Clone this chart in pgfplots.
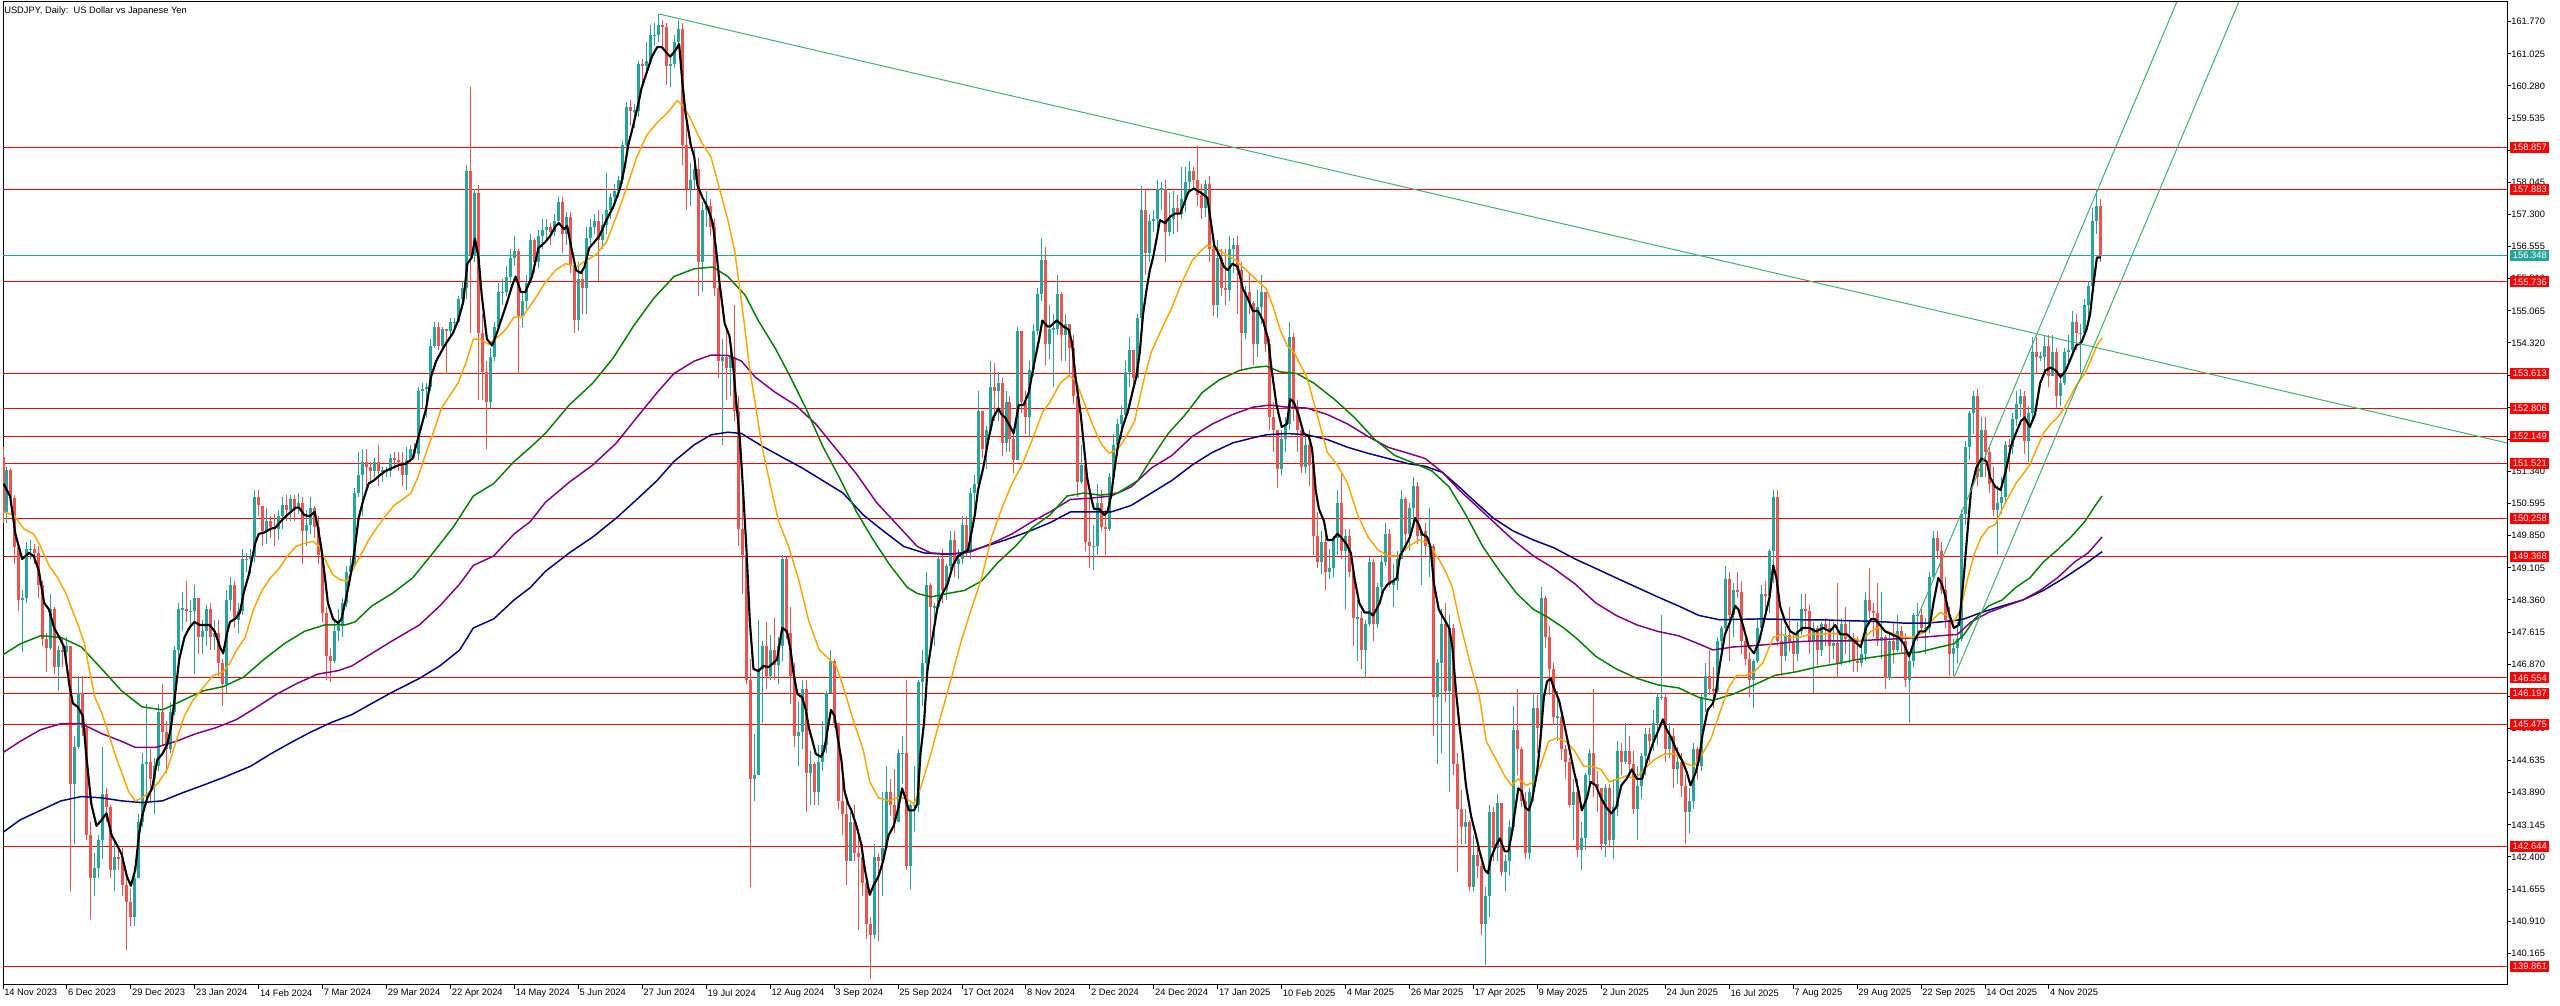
\documentclass[border=0pt]{standalone}
\usepackage{fontspec}
\setmainfont{Liberation Sans}
\usepackage{pgfplots}
\usepackage{pgfplotstable}
\pgfplotsset{compat=1.18}
\definecolor{upc}{HTML}{26A69A}
\definecolor{dnc}{HTML}{EF5350}
\definecolor{tl}{HTML}{3CB371}
\definecolor{maor}{HTML}{FFA500}
\definecolor{magr}{HTML}{008000}
\definecolor{mapu}{HTML}{800080}
\definecolor{manv}{HTML}{000080}
\pgfplotstableread{
c h l
150.40 151.90 150.15
151.38 151.45 150.15
150.72 151.43 150.55
149.58 150.80 149.20
148.35 149.70 148.10
148.40 148.60 147.15
149.53 149.70 148.30
149.55 149.75 149.30
149.45 149.65 149.20
148.70 149.60 148.40
147.45 148.80 147.30
147.25 147.60 146.70
148.15 148.50 147.20
146.80 148.20 146.65
147.20 147.30 146.25
147.15 147.45 146.80
147.30 147.50 146.90
144.10 147.30 141.60
144.95 145.20 142.70
146.20 146.60 144.90
145.40 146.60 145.20
142.90 145.50 142.80
141.90 143.20 140.95
142.15 142.50 141.50
142.80 142.90 141.90
143.85 144.95 142.35
143.55 144.00 143.20
142.10 143.60 141.90
142.40 142.80 141.60
142.35 142.60 142.10
141.75 142.60 141.50
141.35 141.90 140.25
141.00 141.65 140.80
141.90 142.20 140.80
143.20 143.40 141.90
144.55 144.80 143.10
144.60 145.95 143.80
144.20 144.90 143.70
144.50 144.70 143.40
145.75 145.95 144.40
145.30 146.40 145.00
144.90 145.55 144.35
145.75 146.00 144.80
147.20 147.30 145.70
148.15 148.30 147.00
148.15 148.55 147.65
148.10 148.80 147.85
148.10 148.35 147.70
148.40 148.70 146.65
147.50 148.30 147.10
147.65 147.90 147.10
148.15 148.25 147.30
147.50 148.30 147.20
147.60 147.90 147.20
146.90 147.90 146.60
146.40 147.00 145.90
148.35 148.60 146.20
148.70 148.90 148.10
147.90 148.80 147.70
148.10 148.30 147.60
149.30 149.55 148.00
149.30 149.45 149.00
149.35 149.55 148.95
150.75 150.90 149.25
150.55 150.90 150.30
149.95 150.55 149.60
150.20 150.50 149.65
150.05 150.30 149.80
150.00 150.35 149.60
150.30 150.45 149.75
150.55 150.75 150.00
150.45 150.80 150.20
150.70 150.80 150.20
150.50 150.80 150.20
150.60 150.85 150.35
149.95 150.75 149.20
150.10 150.45 149.60
150.50 150.75 149.90
150.05 150.55 149.80
149.40 150.30 149.20
148.05 149.45 147.85
147.05 148.20 146.50
146.95 147.25 146.45
147.65 147.90 146.90
147.75 148.15 147.40
148.30 148.40 147.50
149.00 149.15 148.20
149.15 149.35 148.90
150.85 150.95 149.30
151.25 151.80 150.75
151.55 151.85 150.30
151.45 151.85 151.00
151.35 151.55 151.05
151.55 151.65 151.20
151.35 151.95 151.00
151.35 151.45 151.10
151.35 151.45 151.20
151.65 151.75 151.20
151.60 151.80 151.40
151.55 151.80 151.35
151.25 151.80 151.00
151.60 151.90 150.90
151.85 151.95 151.55
151.75 152.00 151.65
153.20 153.30 151.60
153.25 153.40 152.80
153.30 153.40 152.60
154.25 154.40 153.20
154.70 154.80 154.20
154.25 154.80 154.15
154.65 154.70 154.20
154.60 154.65 153.60
154.80 154.90 154.50
154.80 154.90 154.60
155.35 155.40 154.80
155.60 155.75 155.10
158.30 158.45 155.35
156.35 160.25 154.55
157.80 157.90 156.20
154.55 157.99 153.00
153.65 155.00 152.99
152.95 153.90 151.86
154.00 154.20 152.80
154.70 154.80 153.90
155.50 155.70 154.60
155.50 155.80 155.20
155.85 156.10 155.40
156.30 156.50 155.70
156.45 156.80 156.10
154.95 156.50 153.60
155.30 155.50 154.70
155.70 155.90 155.10
156.70 156.85 155.75
156.20 156.75 155.95
156.80 156.95 156.05
156.95 157.20 156.50
157.00 157.20 156.70
156.90 157.10 156.60
157.15 157.30 156.80
157.60 157.70 157.10
156.85 157.70 156.40
157.25 157.35 156.60
156.10 157.35 155.95
154.85 156.20 154.55
155.80 156.20 154.60
155.60 156.05 155.00
156.75 157.00 155.00
157.00 157.20 156.60
157.15 157.30 156.85
156.70 157.40 155.75
157.05 157.30 156.50
157.40 158.25 156.85
157.70 157.80 157.20
157.85 158.00 157.55
158.10 158.20 157.70
158.90 159.00 158.00
159.80 159.90 158.80
159.70 159.95 159.35
159.70 159.85 159.30
160.80 160.85 159.55
160.75 160.90 160.30
160.85 161.30 160.65
161.45 161.70 160.80
161.45 161.75 161.20
161.70 161.95 161.30
161.65 161.80 161.20
160.75 161.75 160.30
160.80 161.00 160.25
161.30 161.45 160.70
161.60 161.80 161.25
158.90 161.75 158.45
157.90 159.45 157.40
158.10 158.50 157.50
158.35 158.85 157.90
156.20 158.60 155.40
157.40 157.60 155.50
157.50 157.85 157.00
157.00 157.65 156.80
155.60 157.20 155.40
153.90 155.65 153.50
154.00 154.40 151.95
153.75 154.70 153.00
154.00 154.20 153.10
152.75 155.20 152.50
150.00 153.10 149.60
149.40 150.90 148.50
146.50 149.90 146.40
144.20 147.00 141.70
144.30 145.25 143.70
146.75 147.90 144.70
147.30 147.40 145.50
146.60 147.85 146.30
147.20 147.55 146.50
146.85 147.95 146.50
147.30 147.50 146.40
149.30 149.40 146.95
147.60 149.35 147.45
146.60 148.20 145.95
145.20 146.90 144.95
145.30 146.00 144.50
146.30 146.50 144.90
144.35 146.50 143.45
144.55 144.85 143.60
143.90 144.60 143.60
144.60 145.00 143.60
145.00 145.55 144.40
146.20 146.25 144.80
146.95 147.20 146.20
145.50 147.00 145.40
143.70 145.50 143.50
143.40 144.20 142.90
142.30 143.80 141.75
143.20 143.45 142.40
142.50 143.60 142.30
142.40 142.95 140.70
141.80 142.70 141.50
140.85 141.95 140.50
140.60 141.00 139.58
142.40 142.70 140.50
142.30 142.50 140.45
142.60 143.90 141.50
143.90 144.50 142.70
143.60 144.20 143.35
143.20 144.45 142.95
144.80 144.90 143.30
144.80 145.20 144.10
142.20 146.50 142.10
143.60 143.65 141.65
143.60 144.50 143.00
146.45 146.50 143.45
146.90 147.20 145.90
148.70 149.00 146.40
148.20 148.75 147.35
148.20 148.30 147.30
149.30 149.35 148.15
148.60 149.55 148.30
149.15 149.20 148.35
149.75 149.95 149.05
149.20 149.95 148.90
149.30 149.55 148.85
150.10 150.30 149.20
149.50 150.30 149.35
150.85 150.95 149.30
151.05 151.25 150.30
152.75 153.20 150.90
151.85 152.75 151.65
152.30 152.40 151.40
153.30 153.90 152.20
153.20 153.85 152.50
153.40 153.65 152.50
152.00 153.50 151.70
152.95 153.20 151.80
152.10 153.10 151.80
151.60 152.30 151.30
154.60 154.70 151.60
152.95 154.60 152.70
152.60 153.20 152.20
153.70 153.90 152.15
154.60 154.75 153.55
155.45 155.60 154.50
156.25 156.75 155.30
154.30 156.55 153.80
154.65 155.20 153.95
154.65 155.00 153.30
155.45 155.90 154.50
154.50 155.50 153.90
154.75 155.00 153.90
154.20 154.75 153.55
153.10 154.50 152.90
151.10 153.20 150.75
151.50 151.95 151.05
149.70 151.60 149.50
149.60 150.75 149.10
149.60 150.10 149.05
150.60 151.05 149.40
150.05 150.90 149.95
150.00 150.45 149.40
151.20 151.30 149.95
151.95 152.20 151.05
152.45 152.55 151.70
152.65 152.85 152.10
153.65 153.90 152.60
154.15 154.45 153.30
153.50 154.15 153.30
154.90 155.00 153.50
157.40 157.95 154.50
156.40 157.90 155.90
157.15 157.30 156.20
157.20 157.40 156.90
157.90 158.10 157.00
157.90 158.05 157.40
156.90 158.10 156.20
157.20 157.80 156.80
157.45 157.85 156.85
157.30 157.75 156.90
157.65 158.40 157.20
158.05 158.40 157.35
158.30 158.55 157.80
158.10 158.40 157.90
157.75 158.88 157.50
157.45 158.00 157.20
158.00 158.10 157.25
156.50 158.20 156.20
155.20 156.60 154.95
156.30 156.70 154.90
155.60 156.50 155.40
155.55 156.50 155.20
156.50 156.80 155.30
156.60 156.75 155.95
156.00 156.80 155.00
154.55 156.20 153.70
155.50 155.65 154.40
155.25 155.95 155.00
154.30 155.30 153.80
155.15 155.55 154.00
155.50 155.90 154.75
154.30 155.50 154.10
152.60 154.40 152.30
152.30 152.95 151.80
151.40 152.30 150.95
152.10 152.30 151.25
152.45 152.60 151.80
154.45 154.80 152.30
152.80 154.55 152.50
152.30 153.00 151.80
151.45 152.30 151.30
151.95 152.20 151.30
151.50 152.30 151.00
149.85 151.50 149.40
149.25 150.40 149.10
149.70 149.95 148.95
149.00 149.90 148.60
149.10 149.55 148.85
149.80 149.85 148.90
150.60 150.90 149.40
149.50 151.30 149.30
149.85 150.00 148.15
149.00 150.00 148.90
147.95 149.10 147.30
147.95 148.35 146.95
147.20 148.10 146.75
147.80 147.90 146.55
149.25 149.35 147.75
147.80 149.30 147.40
148.65 148.75 147.70
149.25 149.40 148.50
149.90 150.15 149.15
148.70 150.00 148.65
148.80 149.20 148.20
149.30 149.50 148.60
150.70 150.90 149.30
149.90 150.75 149.50
150.50 150.60 149.50
151.00 151.20 150.10
149.85 151.10 149.65
149.95 150.00 148.70
149.60 150.15 149.40
149.60 150.50 148.90
146.10 149.65 145.20
146.90 147.00 144.55
147.80 148.15 144.80
146.25 148.30 146.00
147.70 148.00 143.90
144.55 147.80 144.30
143.50 144.80 142.05
143.10 143.95 142.70
143.20 143.50 142.70
141.70 143.25 141.60
142.45 142.90 141.60
142.20 142.60 141.90
140.85 142.25 140.60
141.50 141.70 139.89
143.45 143.60 141.00
142.60 143.55 142.30
143.65 143.85 142.30
142.05 143.65 141.95
142.30 142.45 141.60
143.10 143.25 141.95
145.35 145.90 143.00
144.90 146.30 144.30
143.70 144.95 143.55
142.50 143.90 142.35
143.90 144.00 142.35
145.85 146.20 143.70
145.40 146.15 144.80
148.40 148.65 145.50
147.50 148.45 147.25
146.75 147.75 146.15
145.65 146.90 145.45
145.65 146.25 145.10
144.90 145.80 144.65
144.60 145.00 144.20
143.60 144.70 143.55
143.90 144.20 142.80
142.55 144.20 142.40
142.85 143.20 142.10
144.30 144.35 142.55
144.80 144.90 143.95
144.10 146.30 143.80
144.00 144.40 143.45
142.70 144.00 142.55
144.00 144.10 142.40
142.80 144.10 142.65
143.55 144.20 142.35
144.85 145.10 143.35
144.60 145.05 144.30
144.85 145.50 144.55
144.55 145.20 144.30
143.50 144.85 143.40
144.05 144.50 142.80
144.75 144.80 143.75
145.25 145.40 144.30
145.10 145.40 144.60
145.50 145.80 144.85
146.10 146.20 145.00
146.10 148.00 146.05
144.90 146.20 144.60
145.20 145.50 144.70
144.45 145.40 144.00
144.60 144.95 144.10
144.05 144.80 143.80
143.45 144.30 142.70
143.70 144.00 142.95
144.90 145.05 143.50
144.50 144.95 144.20
146.10 146.20 144.40
146.60 146.90 145.75
146.30 147.20 146.15
146.25 146.80 145.85
147.40 147.50 146.20
147.70 147.75 147.05
148.85 149.15 147.60
148.00 149.00 146.95
148.60 148.75 147.50
148.55 149.00 148.40
147.40 148.80 147.10
147.00 147.60 146.85
146.50 147.15 146.10
146.95 147.00 145.85
147.70 147.95 146.90
148.50 148.70 147.60
148.45 148.80 147.90
149.50 149.55 148.05
150.75 150.90 148.75
147.40 150.90 147.30
147.05 147.90 146.60
147.55 147.75 146.95
147.35 148.20 147.15
147.10 147.55 146.70
147.65 147.85 146.95
148.15 148.50 147.55
148.10 148.50 147.70
147.40 148.25 147.10
147.70 147.85 146.20
147.20 147.75 146.85
147.80 147.85 147.05
147.70 147.95 147.30
147.30 147.90 146.90
147.35 147.85 147.00
146.90 148.75 146.55
147.80 147.95 146.85
147.45 148.20 147.10
147.45 147.90 146.90
146.95 147.60 146.70
146.90 147.50 146.70
147.10 147.40 146.80
148.35 148.55 146.95
148.10 149.10 147.95
148.05 148.30 147.50
147.40 148.75 147.30
147.50 148.55 147.00
146.55 147.55 146.30
147.40 147.60 146.50
147.20 147.85 146.90
147.65 148.00 147.15
147.40 147.75 147.15
146.50 147.60 146.35
146.95 147.05 145.50
148.00 148.05 146.80
148.00 148.30 147.40
147.70 148.15 147.60
147.70 147.95 147.10
148.90 149.00 147.60
149.80 149.95 148.85
149.50 149.95 149.30
148.60 149.70 148.50
147.90 148.90 147.70
147.10 148.20 146.60
147.25 147.45 146.60
147.45 147.85 146.90
150.35 150.45 147.40
151.90 152.05 150.10
152.70 152.75 151.60
153.10 153.20 152.20
151.20 153.25 151.00
152.30 152.60 151.45
151.80 152.60 151.20
151.05 151.90 150.85
150.45 151.45 150.30
150.60 151.00 149.40
150.75 151.20 150.35
151.95 152.05 150.60
151.90 152.10 151.35
152.55 152.70 151.75
152.90 153.20 152.40
153.10 153.25 152.60
152.05 153.20 151.75
152.70 152.85 151.55
154.10 154.45 152.50
154.00 154.45 153.60
154.00 154.10 153.90
154.25 154.50 153.70
153.55 154.50 153.30
154.10 154.50 153.60
153.10 154.20 152.80
153.40 153.60 152.85
154.10 154.20 153.35
154.15 154.50 153.90
154.80 155.05 154.10
154.55 155.00 154.15
154.55 154.75 153.60
155.20 155.35 154.45
155.65 155.75 154.90
157.15 157.45 155.35
157.50 157.90 156.85
156.35 157.65 156.20
}\candles
\pgfplotstablecreatecol[create col/assign/.code={%
  \getprevrow{c}\entry
  \ifx\entry\empty\def\entry{151.68}\fi
  \pgfkeyslet{/pgfplots/table/create col/next content}\entry}]{o}{\candles}
\tikzset{lbl/.style={anchor=west, xshift=2.25pt, fill=red, text=white,
  font=\fontsize{7}{8}\selectfont, inner xsep=2pt, inner ysep=0pt, minimum height=8.25pt}}
\pgfplotsset{candle/.style={draw=none, mark=none, forget plot, error bars/.cd, y explicit, error mark=none}}
\begin{document}
\begin{tikzpicture}
\useasboundingbox (0,0) rectangle (1920pt,754.5pt);
\fill[white] (0,0) rectangle (1920pt,754.5pt);
\begin{axis}[
  at={(2.25pt,15.75pt)}, anchor=south west,
  scale only axis, width=1878pt, height=737.25pt,
  xmin=0, xmax=626.635, ymin=139.43, ymax=162.227,
  clip mode=individual,
  axis line style={line width=0.75pt, black},
  tick align=outside, major tick length=3pt,
  tick style={line width=0.75pt, black},
  ytick pos=right, yticklabel pos=right, xtick pos=left,
  xtick={0,16,...,512},
  xticklabels={14 Nov 2023,6 Dec 2023,29 Dec 2023,23 Jan 2024,14 Feb 2024,7 Mar 2024,29 Mar 2024,22 Apr 2024,14 May 2024,5 Jun 2024,27 Jun 2024,19 Jul 2024,12 Aug 2024,3 Sep 2024,25 Sep 2024,17 Oct 2024,8 Nov 2024,2 Dec 2024,24 Dec 2024,17 Jan 2025,10 Feb 2025,4 Mar 2025,26 Mar 2025,17 Apr 2025,9 May 2025,2 Jun 2025,24 Jun 2025,16 Jul 2025,7 Aug 2025,29 Aug 2025,22 Sep 2025,14 Oct 2025,4 Nov 2025},
  ytick={140.165,140.910,141.655,142.400,143.145,143.890,144.635,145.380,146.125,146.870,147.615,148.360,149.105,149.850,150.595,151.340,152.085,152.830,153.575,154.320,155.065,155.810,156.555,157.300,158.045,158.790,159.535,160.280,161.025,161.770},
  yticklabels={140.165,140.910,141.655,142.400,143.145,143.890,144.635,145.380,146.125,146.870,147.615,148.360,149.105,149.850,150.595,151.340,152.085,152.830,153.575,154.320,155.065,155.810,156.555,157.300,158.045,158.790,159.535,160.280,161.025,161.770},
  ticklabel style={font=\fontsize{7}{8}\selectfont, inner sep=0pt},
  xticklabel style={anchor=north west, xshift=0.75pt},
  yticklabel style={anchor=west},
]
\pgfplotsinvokeforeach{158.857,157.883,155.736,153.613,152.806,152.149,151.521,150.258,149.368,146.554,146.197,145.475,142.644,139.861}{
  \addplot[red, line width=0.75pt, forget plot] coordinates {(0,#1) (626.635,#1)};}
\addplot[upc, line width=0.75pt] coordinates {(0,156.348) (626.635,156.348)};
% wicks
\addplot[candle, y dir=plus, error bar style={draw=upc, line width=0.75pt}]
  table[x expr=\coordindex, y expr={(\thisrow{c}>=\thisrow{o}) ? \thisrow{l} : nan},
        y error expr={\thisrow{h}-\thisrow{l}}] {\candles};
\addplot[candle, y dir=plus, error bar style={draw=dnc, line width=0.75pt}]
  table[x expr=\coordindex, y expr={(\thisrow{c}<\thisrow{o}) ? \thisrow{l} : nan},
        y error expr={\thisrow{h}-\thisrow{l}}] {\candles};
% bodies
\addplot[candle, y dir=both, error bar style={draw=upc, line width=2.25pt}]
  table[x expr=\coordindex, y expr={(\thisrow{c}>=\thisrow{o}) ? 0.5*(\thisrow{c}+\thisrow{o}) : nan},
        y error expr={max(0.5*abs(\thisrow{c}-\thisrow{o}),0.012)}] {\candles};
\addplot[candle, y dir=both, error bar style={draw=dnc, line width=2.25pt}]
  table[x expr=\coordindex, y expr={(\thisrow{c}<\thisrow{o}) ? 0.5*(\thisrow{c}+\thisrow{o}) : nan},
        y error expr={max(0.5*abs(\thisrow{c}-\thisrow{o}),0.012)}] {\candles};
% 200
\addplot[manv, line width=1.1pt] table {
x y
0 142.97
4.3 143.26
9.4 143.48
14.5 143.70
19.6 143.80
24.7 143.77
29.7 143.70
34.8 143.66
39.9 143.70
45.0 143.89
50.0 144.06
55.1 144.24
61.9 144.50
67.0 144.79
72.0 145.05
77.1 145.30
82.2 145.52
87.3 145.70
92.3 145.96
97.4 146.22
104.2 146.54
109.3 146.83
114.3 147.20
117.7 147.71
122.8 147.92
127.9 148.36
132.0 148.65
135.7 149.02
141.7 149.45
147.6 149.82
153.5 150.26
158.6 150.69
163.7 151.13
167.9 151.57
173.0 151.96
177.2 152.19
181.4 152.25
184.8 152.22
189.9 151.93
195.0 151.67
200.0 151.42
205.1 151.13
210.2 150.84
215.3 150.33
220.3 149.96
225.4 149.60
230.5 149.45
235.6 149.42
240.6 149.45
245.7 149.60
250.8 149.75
255.9 149.92
262.0 150.15
267.1 150.40
272.2 150.40
277.3 150.40
282.3 150.55
287.4 150.84
292.5 151.13
297.6 151.49
302.6 151.78
307.7 152.00
312.8 152.12
316.2 152.19
321.3 152.22
326.3 152.19
331.4 152.08
336.5 151.90
341.6 151.76
346.6 151.64
351.7 151.52
355.9 151.46
360.2 151.32
364.4 150.98
368.6 150.62
372.9 150.26
377.9 149.96
383.0 149.75
388.1 149.57
393.4 149.31
398.6 149.09
403.7 148.87
408.9 148.65
414.1 148.43
419.3 148.22
424.4 148.00
429.6 147.90
434.8 147.91
439.9 147.92
445.1 147.91
450.3 147.90
455.5 147.90
460.6 147.88
465.8 147.87
471.0 147.85
476.2 147.82
481.3 147.82
484.8 147.85
488.2 147.88
490.8 147.92
495.1 148.07
500.3 148.22
505.5 148.36
510.6 148.58
515.8 148.87
521.0 149.19
525.3 149.48
};
% 100
\addplot[mapu, line width=1.1pt] table {
x y
0 144.82
4.3 145.08
9.4 145.35
14.5 145.49
19.6 145.49
24.7 145.26
29.7 145.08
33.1 144.94
38.2 144.94
43.3 145.08
48.3 145.26
53.4 145.40
58.5 145.59
63.6 145.88
68.6 146.18
73.7 146.43
78.8 146.64
83.9 146.72
87.3 146.83
92.3 147.12
97.4 147.41
104.2 147.78
109.3 148.22
114.3 148.73
117.7 149.16
122.8 149.38
127.9 149.89
132.0 150.18
135.7 150.62
141.7 151.09
147.6 151.49
153.5 152.00
158.6 152.59
163.7 153.17
167.9 153.61
173.0 153.90
177.2 154.04
181.4 154.03
184.8 153.90
188.2 153.53
193.3 153.17
198.3 152.88
203.4 152.44
208.5 151.86
213.6 151.28
218.6 150.62
223.7 150.11
228.8 149.60
232.2 149.45
237.3 149.42
242.3 149.48
247.4 149.67
252.5 149.89
257.6 150.18
262.0 150.40
267.1 150.69
272.2 150.72
277.3 150.77
282.3 150.98
287.4 151.42
292.5 151.71
297.6 152.15
302.6 152.44
307.7 152.66
312.8 152.83
317.0 152.88
321.3 152.83
326.3 152.81
331.4 152.66
336.5 152.44
341.6 152.15
346.6 151.90
351.7 151.76
355.9 151.64
360.2 151.32
364.4 150.91
368.6 150.55
372.9 150.18
377.9 149.75
383.0 149.38
388.1 149.09
393.4 148.73
398.6 148.29
403.7 148.00
408.9 147.78
414.1 147.63
419.3 147.53
424.4 147.34
427.9 147.20
433.1 147.27
438.2 147.30
443.4 147.34
448.6 147.39
453.7 147.41
458.9 147.41
464.1 147.41
469.3 147.44
474.4 147.46
479.6 147.49
484.8 147.53
489.1 147.56
492.5 147.85
496.9 148.07
501.2 148.22
505.5 148.36
509.8 148.58
514.1 148.87
518.4 149.24
521.8 149.45
525.3 149.82
};
% 50
\addplot[magr, line width=1.1pt] table {
x y
0 147.09
4.3 147.34
9.4 147.53
14.5 147.49
19.6 147.27
24.7 146.76
29.7 146.25
34.8 145.88
39.9 145.81
45.0 146.03
50.0 146.25
55.1 146.35
60.2 146.57
65.3 146.98
70.3 147.34
75.4 147.63
80.5 147.78
85.6 147.78
88.1 147.85
92.3 148.22
97.4 148.51
102.5 148.87
107.6 149.45
112.6 150.04
117.7 150.77
122.8 151.06
127.9 151.57
132.0 151.90
135.7 152.22
141.7 152.88
147.6 153.39
152.7 153.97
157.7 154.70
162.8 155.35
167.9 155.86
173.0 156.04
177.6 156.08
181.4 155.86
185.7 155.43
189.0 154.84
193.3 154.19
196.6 153.61
200.9 152.81
205.1 151.93
209.3 151.20
213.6 150.40
217.8 149.75
222.0 149.16
226.3 148.65
228.8 148.51
232.2 148.43
236.4 148.51
240.6 148.58
244.9 148.80
249.1 149.24
253.3 149.60
257.6 150.04
262.0 150.33
266.3 150.77
270.5 150.84
274.7 150.79
279.0 150.84
284.0 151.13
287.4 151.64
291.6 152.22
295.9 152.66
300.1 153.17
304.3 153.46
309.4 153.68
312.8 153.75
316.2 153.78
319.6 153.65
323.8 153.61
328.0 153.39
333.1 153.02
338.2 152.59
343.3 152.08
348.3 151.71
353.4 151.52
357.6 151.35
361.9 150.98
366.1 150.33
370.3 149.60
374.6 149.02
378.8 148.51
383.0 148.14
386.4 147.97
390.6 147.71
394.0 147.45
398.6 147.05
403.7 146.76
408.9 146.54
414.1 146.39
419.3 146.32
424.4 146.10
427.9 146.03
433.1 146.18
438.2 146.39
443.4 146.61
448.6 146.69
453.7 146.80
458.9 146.88
464.1 146.98
469.3 147.05
474.4 147.12
479.6 147.15
484.8 147.27
488.2 147.34
490.8 147.56
493.4 147.92
496.9 148.22
500.3 148.36
503.7 148.65
507.2 148.87
510.6 149.24
514.1 149.52
517.5 149.82
521.0 150.18
523.6 150.55
525.3 150.77
};
% 20
\addplot[maor, line width=1.1pt] table {
x y
0 150.40
2.7 150.33
5.2 150.01
7.7 149.89
9.4 149.60
11.5 149.16
13.7 148.87
15.8 148.50
17.0 148.20
18.7 147.80
20.4 147.34
21.7 146.70
23.0 146.10
24.7 145.74
26.3 145.30
28.0 144.79
29.7 144.36
31.4 143.92
33.1 143.70
34.8 143.77
36.9 143.92
39.0 144.14
41.1 144.43
43.3 145.08
45.4 145.67
47.5 146.03
50.0 146.32
52.6 146.61
55.1 146.69
56.8 146.90
58.5 147.20
60.6 147.49
62.7 148.14
64.8 148.58
66.9 148.87
69.1 149.09
71.2 149.38
73.3 149.60
75.4 149.67
77.5 149.72
79.2 149.60
80.9 149.24
82.6 148.94
84.3 148.83
86.0 148.80
87.7 149.09
89.4 149.38
91.5 149.75
93.6 150.04
95.7 150.30
97.8 150.55
100.0 150.69
102.1 150.84
103.8 151.20
105.4 151.64
107.6 152.22
109.7 152.80
111.8 153.10
113.9 153.39
116.0 153.90
117.7 154.41
119.4 154.41
121.5 154.29
123.6 154.44
125.8 154.63
127.9 154.92
130.0 154.92
133.2 155.35
135.7 155.72
138.3 156.01
140.8 156.16
143.4 156.08
145.9 156.23
148.4 156.37
151.0 156.66
153.5 157.25
156.0 157.90
158.6 158.63
161.1 159.14
163.7 159.43
166.2 159.65
168.7 159.94
170.4 159.80
172.1 159.51
174.7 158.99
177.2 158.63
179.3 157.90
181.4 157.17
183.1 156.45
184.4 155.57
185.6 154.70
186.9 153.68
188.2 152.95
189.9 151.93
191.6 151.20
194.1 150.18
196.6 149.60
199.2 148.80
201.7 147.85
204.3 147.20
206.8 146.98
208.5 146.83
210.6 146.25
212.7 145.59
215.3 144.87
216.9 144.14
219.1 143.77
221.6 143.70
223.7 143.77
225.8 143.77
228.0 143.63
229.6 143.99
232.2 144.79
234.7 145.67
237.3 146.54
239.8 147.41
242.3 148.14
244.9 148.87
247.4 149.82
249.9 150.47
252.5 151.06
255.0 151.49
257.6 152.08
260.1 152.70
262.0 152.95
264.6 153.39
266.7 153.56
268.4 153.46
270.5 152.95
272.6 152.44
274.7 152.00
276.8 151.76
279.0 151.86
281.1 152.15
283.2 152.51
285.3 153.39
287.4 154.12
289.9 154.63
292.5 155.14
295.0 155.72
297.6 156.23
299.7 156.45
301.4 156.59
303.5 156.52
306.0 156.37
308.6 156.23
311.1 156.01
313.6 155.79
316.2 155.57
317.9 155.14
319.6 154.63
321.3 154.26
323.0 154.12
324.6 153.82
326.3 153.53
328.0 152.95
329.7 152.37
331.4 151.78
333.9 151.49
336.5 151.06
339.0 150.33
341.6 149.82
344.1 149.52
346.6 149.38
349.2 149.38
351.7 149.60
354.3 149.75
356.8 149.67
359.3 149.31
361.0 149.02
362.7 148.65
364.4 147.92
366.9 146.98
369.5 146.10
371.2 145.08
373.7 144.65
375.8 144.28
377.5 144.06
379.2 144.21
381.3 144.06
383.0 144.14
384.7 144.50
386.8 145.08
388.9 145.16
391.1 145.08
393.2 144.87
395.6 144.50
397.7 144.50
399.9 144.43
402.0 144.14
404.2 144.21
406.3 144.28
408.5 144.21
410.6 144.43
413.2 144.65
415.8 144.79
418.4 144.79
421.0 144.57
423.1 144.50
425.3 144.79
427.5 145.16
429.6 145.74
431.8 146.32
433.9 146.61
436.1 146.61
438.2 146.69
440.4 146.90
443.0 147.49
445.1 147.56
447.3 147.49
449.4 147.49
452.0 147.56
454.6 147.56
457.2 147.59
459.8 147.56
462.4 147.49
464.9 147.41
467.5 147.63
469.3 147.71
471.4 147.63
473.6 147.56
475.7 147.49
477.9 147.49
479.6 147.56
481.3 147.63
483.1 147.92
484.8 148.07
486.5 148.00
488.2 147.85
489.9 148.14
491.7 148.87
493.4 149.45
495.1 149.82
496.9 150.04
498.6 150.11
500.3 150.47
502.0 150.77
503.7 151.06
505.5 151.28
507.2 151.49
508.9 151.86
510.6 152.22
512.4 152.44
514.1 152.59
515.8 152.81
517.5 153.10
519.2 153.39
521.0 153.61
522.7 153.97
524.0 154.26
525.3 154.44
};
% fast
\addplot[black, line width=1.6pt, line join=round] table {
x y
0.1 151.06
1.8 150.76
3.1 149.89
4.8 149.31
6.5 149.45
7.7 149.38
9.0 149.02
10.3 148.29
11.5 148.14
12.8 147.71
14.1 147.49
15.3 147.27
16.6 146.39
17.5 145.96
18.7 145.88
20.0 145.67
20.8 144.79
22.1 143.63
23.4 143.12
24.7 143.26
25.9 143.41
27.2 142.90
28.5 142.68
29.7 142.46
31.0 141.95
32.0 141.73
33.1 142.10
34.0 142.90
34.8 143.34
36.1 143.77
37.3 143.99
38.6 144.65
39.9 144.79
41.1 145.01
42.0 145.38
42.8 145.95
44.1 146.98
45.4 147.49
46.6 147.71
47.9 147.85
49.2 147.78
50.5 147.78
51.7 147.78
53.0 147.63
54.3 147.27
55.1 147.12
56.0 147.56
56.8 147.85
58.1 147.92
59.3 148.07
60.2 148.51
61.5 148.94
62.3 149.31
63.1 149.67
64.0 149.89
65.3 149.92
67.0 150.01
68.2 150.04
69.5 150.18
70.8 150.30
72.0 150.40
73.3 150.50
74.1 150.50
75.4 150.33
76.7 150.30
78.0 150.40
78.8 150.04
79.6 149.60
80.5 148.94
81.3 148.29
82.6 147.92
83.9 147.82
84.7 147.92
85.6 148.29
86.4 148.65
87.3 149.09
88.1 149.60
89.0 150.26
90.2 150.69
91.5 151.06
92.8 151.13
94.0 151.23
95.7 151.35
97.4 151.42
99.1 151.49
100.8 151.52
102.5 151.64
104.2 152.22
105.9 152.80
107.1 153.53
108.4 153.90
109.7 154.12
111.0 154.33
112.6 154.55
113.9 154.84
115.2 155.28
116.2 156.16
117.3 156.30
118.1 156.74
119.0 156.30
119.8 155.43
121.1 154.41
122.4 154.26
123.6 154.55
124.9 154.92
126.2 155.28
127.4 155.65
128.3 155.86
129.6 155.50
130.7 155.50
132.4 155.86
134.0 156.52
135.7 156.66
137.0 156.81
138.3 157.03
139.1 157.10
140.4 156.96
141.2 157.03
142.1 156.59
143.4 156.01
144.6 155.94
145.5 156.08
146.7 156.52
148.0 156.66
149.3 156.81
151.0 157.17
152.7 157.47
154.4 157.90
155.6 158.41
156.5 158.92
157.7 159.36
159.0 159.87
159.8 160.23
161.1 160.60
162.4 160.96
163.7 161.18
164.9 161.18
166.2 161.03
167.0 160.96
168.3 161.11
169.2 161.25
170.0 160.38
170.8 159.65
172.1 158.92
173.0 158.63
173.8 157.97
175.1 157.68
176.3 157.47
177.6 157.10
178.5 156.45
179.3 155.72
180.6 154.77
181.8 154.48
182.7 153.82
183.5 152.95
184.4 152.08
185.2 150.91
186.1 149.45
186.9 147.85
187.8 146.76
189.0 146.71
190.3 146.83
191.6 146.80
192.8 146.90
193.7 146.98
195.0 147.71
196.2 147.63
197.1 147.20
197.9 146.61
198.8 146.18
200.0 146.10
200.9 145.81
201.7 145.38
202.6 145.08
203.4 144.79
204.7 144.72
205.5 144.87
206.4 145.38
207.2 145.81
208.1 145.67
208.9 145.16
209.8 144.65
210.6 143.92
211.5 143.63
212.3 143.48
213.6 143.12
214.8 142.68
215.7 142.10
216.9 141.52
217.8 141.73
219.1 141.95
220.3 142.32
221.6 142.90
222.9 143.12
224.1 143.55
225.0 143.99
225.8 143.77
226.7 143.48
228.0 143.48
228.8 143.63
229.6 144.79
230.5 145.52
231.3 146.69
232.2 147.27
233.0 147.71
233.9 148.22
235.1 148.51
236.4 148.73
237.7 149.16
239.0 149.38
240.2 149.45
241.5 149.52
242.3 149.89
243.2 150.33
244.0 150.91
245.3 151.42
246.6 152.08
247.8 152.59
249.1 152.80
249.9 152.66
250.8 152.59
252.1 152.37
252.9 152.22
254.2 152.88
255.4 152.88
256.7 153.17
258.0 153.82
259.3 154.41
260.1 154.84
261.4 154.70
262.0 154.70
263.7 154.84
265.4 154.70
266.7 154.63
267.5 154.33
268.4 153.53
269.7 152.66
270.5 151.93
271.3 151.20
272.2 150.77
273.0 150.47
274.3 150.47
275.6 150.33
276.4 150.40
277.3 150.77
278.1 151.35
279.0 151.93
280.2 152.37
281.5 152.73
282.8 153.24
283.6 153.53
284.5 154.12
285.3 154.99
286.2 155.57
287.0 156.01
287.8 156.30
288.7 156.74
289.5 157.17
290.8 157.10
292.1 157.25
293.3 157.32
294.6 157.32
295.5 157.54
296.7 157.83
298.0 157.90
299.3 157.83
300.5 157.76
301.4 157.68
302.2 157.17
303.1 156.59
304.3 156.37
305.6 156.08
306.5 156.01
307.7 156.16
309.0 156.08
310.3 155.57
311.5 155.35
312.8 155.06
314.1 155.06
315.3 154.84
316.6 154.41
317.5 153.68
318.7 152.88
320.0 152.37
321.3 152.44
322.1 153.02
323.0 152.95
324.2 152.66
325.5 152.22
326.8 152.15
327.6 151.86
328.5 150.91
329.3 150.47
330.6 150.18
331.4 149.75
332.7 149.75
333.9 149.89
334.8 149.82
336.1 149.67
337.3 149.45
338.2 148.87
339.4 148.29
340.7 148.07
342.0 148.07
342.8 148.00
343.7 148.14
344.5 148.29
345.4 148.58
346.6 148.73
347.9 148.80
348.8 148.87
349.6 149.38
350.9 149.60
352.1 149.82
353.4 150.26
354.3 150.11
355.1 149.89
356.4 149.82
357.2 149.60
358.1 148.73
359.3 148.14
360.6 147.92
361.9 147.71
362.7 147.27
363.6 146.25
364.4 145.52
365.3 144.79
366.1 144.06
367.4 143.34
368.6 142.90
369.5 142.53
370.8 142.10
371.6 142.02
372.4 142.39
373.7 142.68
374.6 142.83
375.8 142.53
376.7 142.53
377.5 142.90
378.4 143.48
379.2 143.99
380.1 143.92
380.9 143.55
381.8 143.48
382.6 143.70
383.9 144.36
384.7 145.08
385.6 146.10
386.4 146.47
387.3 146.54
388.1 146.32
389.4 146.03
390.6 145.52
391.9 144.94
393.2 144.36
394.3 143.92
395.1 143.48
396.4 143.77
397.3 144.14
398.6 144.06
399.9 143.77
401.2 143.55
402.5 143.41
403.7 143.55
405.0 144.06
406.3 144.21
407.6 144.43
408.9 144.21
410.2 144.21
411.5 144.65
412.8 145.01
414.1 145.30
415.4 145.59
416.2 145.38
417.5 145.16
418.8 144.87
420.1 144.65
421.4 144.36
422.3 144.06
423.6 144.36
424.4 144.65
425.3 145.23
426.6 145.81
427.9 145.96
428.7 146.25
429.6 146.83
430.9 147.56
432.2 147.85
433.5 148.22
434.3 148.14
435.6 147.71
436.9 147.27
438.2 147.12
439.5 147.41
440.8 147.92
442.1 148.43
443.0 149.16
443.8 148.87
444.7 148.22
446.0 147.85
447.3 147.63
448.6 147.56
450.3 147.71
452.0 147.71
453.7 147.63
455.5 147.71
457.2 147.63
458.5 147.78
459.8 147.56
461.5 147.56
463.2 147.41
464.9 147.27
466.2 147.71
467.5 147.92
468.4 147.92
469.7 147.78
471.0 147.63
472.7 147.56
474.4 147.49
475.7 147.34
477.0 147.05
478.3 147.41
479.6 147.63
480.9 147.63
482.2 147.78
483.1 148.29
484.3 148.87
485.2 148.73
486.1 148.43
486.9 148.07
488.2 147.71
489.5 147.78
490.8 149.02
491.7 150.04
492.5 150.91
493.8 151.42
495.1 151.64
496.4 151.57
497.3 151.20
498.6 150.98
499.9 150.91
501.2 151.35
502.5 151.93
503.7 152.22
505.0 152.51
505.9 152.59
507.2 152.37
508.5 152.66
509.8 153.39
511.1 153.68
512.4 153.75
513.7 153.68
514.9 153.53
516.2 153.68
517.5 153.97
518.8 154.26
520.1 154.33
521.4 154.63
522.3 154.99
523.1 155.65
524.0 156.30
525.0 156.30
};
% trend lines
\addplot[tl, line width=0.75pt] coordinates {(164.1,161.95) (626.635,152.0)};
\addplot[tl, line width=0.75pt] coordinates {(479.0,147.94) (544.0,162.227)};
\addplot[tl, line width=0.75pt] coordinates {(488.2,146.55) (559.5,162.227)};
% label anchors
\coordinate (L1) at (axis cs:626.635,158.857);
\coordinate (L2) at (axis cs:626.635,157.883);
\coordinate (L3) at (axis cs:626.635,155.736);
\coordinate (L4) at (axis cs:626.635,153.613);
\coordinate (L5) at (axis cs:626.635,152.806);
\coordinate (L6) at (axis cs:626.635,152.149);
\coordinate (L7) at (axis cs:626.635,151.521);
\coordinate (L8) at (axis cs:626.635,150.258);
\coordinate (L9) at (axis cs:626.635,149.368);
\coordinate (L10) at (axis cs:626.635,146.554);
\coordinate (L11) at (axis cs:626.635,146.197);
\coordinate (L12) at (axis cs:626.635,145.475);
\coordinate (L13) at (axis cs:626.635,142.644);
\coordinate (L14) at (axis cs:626.635,139.861);
\coordinate (LB) at (axis cs:626.635,156.348);
\coordinate (TT) at (rel axis cs:0,1);
\end{axis}
\node[anchor=base west, inner sep=0pt, font=\fontsize{7}{8}\selectfont, xshift=0.75pt, yshift=-8.5pt] at (TT) {USDJPY, Daily:\ \ US Dollar vs Japanese Yen};
\node[lbl] at (L1) {158.857};
\node[lbl] at (L2) {157.883};
\node[lbl] at (L3) {155.736};
\node[lbl] at (L4) {153.613};
\node[lbl] at (L5) {152.806};
\node[lbl] at (L6) {152.149};
\node[lbl] at (L7) {151.521};
\node[lbl] at (L8) {150.258};
\node[lbl] at (L9) {149.368};
\node[lbl] at (L10) {146.554};
\node[lbl] at (L11) {146.197};
\node[lbl] at (L12) {145.475};
\node[lbl] at (L13) {142.644};
\node[lbl] at (L14) {139.861};
\node[lbl, fill=upc] at (LB) {156.348};
\end{tikzpicture}
\end{document}
